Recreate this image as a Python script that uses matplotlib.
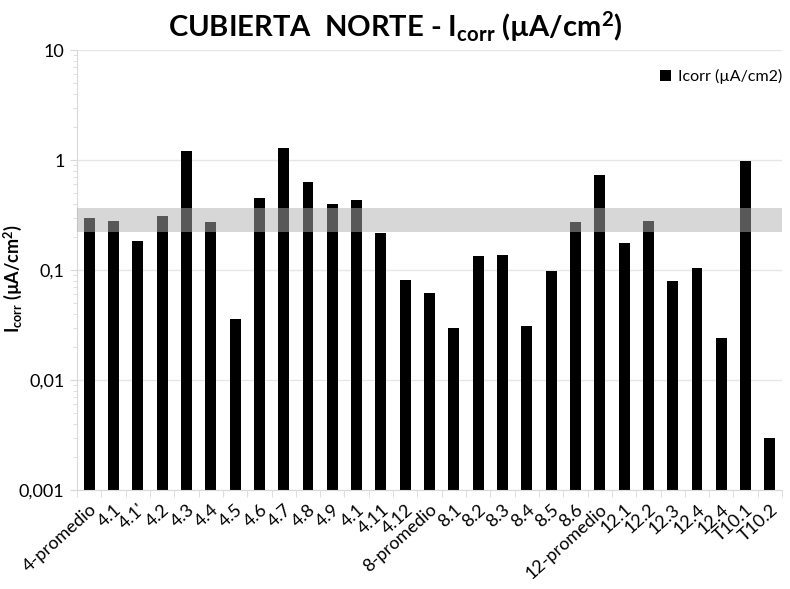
import numpy as np
import matplotlib
matplotlib.use("Agg")
import matplotlib.pyplot as plt
import matplotlib.ticker as ticker

# datos
etiquetas = ["4-promedio", "4.1", "4.1'", "4.2", "4.3", "4.4", "4.5", "4.6", "4.7", "4.8",
             "4.9", "4.1", "4.11", "4.12", "8-promedio", "8.1", "8.2", "8.3", "8.4", "8.5",
             "8.6", "12-promedio", "12.1", "12.2", "12.3", "12.4", "12.4", "T10.1", "T10.2"]
icorr = [0.297, 0.281, 0.184, 0.312, 1.21, 0.271, 0.036, 0.454, 1.28, 0.627,
         0.395, 0.43, 0.215, 0.082, 0.062, 0.030, 0.134, 0.138, 0.031, 0.098,
         0.273, 0.726, 0.177, 0.281, 0.080, 0.104, 0.024, 0.985, 0.0030]
banda = (0.221, 0.366)
y_ticks = [0.001, 0.01, 0.1, 1, 10]
y_ticklabels = ["0,001", "0,01", "0,1", "1", "10"]

plt.rcParams['font.family'] = ['Lato', 'DejaVu Sans']
plt.rcParams['mathtext.fontset'] = 'custom'
plt.rcParams['mathtext.rm'] = 'Lato'
plt.rcParams['mathtext.bf'] = 'Lato:bold'
plt.rcParams['mathtext.it'] = 'Lato:italic'

fig = plt.figure(figsize=(7.9, 5.89), dpi=100)
ax = fig.add_axes([0.0975, 0.168, 0.8925, 0.747])

x = np.arange(len(etiquetas))
ax.bar(x, icorr, width=0.45, color='black', label='Icorr (µA/cm2)', zorder=2)
ax.axhspan(banda[0], banda[1], color='#b1b1b1', alpha=0.5, lw=0, zorder=3)

ax.set_yscale('log')
ax.set_ylim(0.001, 10)
ax.set_xlim(-0.5, len(etiquetas) - 0.5)
ax.set_yticks(y_ticks)
ax.set_yticklabels(y_ticklabels, fontsize=13)
ax.yaxis.set_minor_locator(ticker.LogLocator(base=10, subs=np.arange(2, 10)))
ax.yaxis.set_minor_formatter(ticker.NullFormatter())
ax.grid(True, axis='y', which='major', color='#e6e6e6', lw=1, zorder=0)

ax.set_xticks(x)
ax.set_xticklabels(etiquetas, rotation=42, ha='right', rotation_mode='anchor', fontsize=13)
ax.set_xticks(np.arange(-0.5, len(etiquetas)), minor=True)
ax.tick_params(axis='x', which='major', length=0, pad=8)
ax.tick_params(axis='x', which='minor', length=5, color='#d9d9d9', direction='out')
ax.tick_params(axis='y', which='major', length=5, color='#d9d9d9', pad=4)
ax.tick_params(axis='y', which='minor', length=3, color='#d9d9d9')

for s in ['top', 'right']:
    ax.spines[s].set_visible(False)
for s in ['left', 'bottom']:
    ax.spines[s].set_color('#d9d9d9')

ax.set_ylabel(r'$\mathbf{I_{corr}}$ (µA/cm$^{\mathbf{2}}$)', fontsize=13, fontweight='bold')
ax.yaxis.set_label_coords(-0.075, 0.48)
fig.suptitle(r'CUBIERTA  NORTE - I$_{\mathbf{corr}}$ (µA/cm$^{\mathbf{2}}$)', fontsize=21,
             fontweight='bold', y=0.985)

ax.legend(loc='upper right', bbox_to_anchor=(1.02, 0.99), frameon=False, fontsize=11.5,
          handlelength=0.7, handleheight=0.7, handletextpad=0.4)

fig.savefig('out.png', dpi=100)
